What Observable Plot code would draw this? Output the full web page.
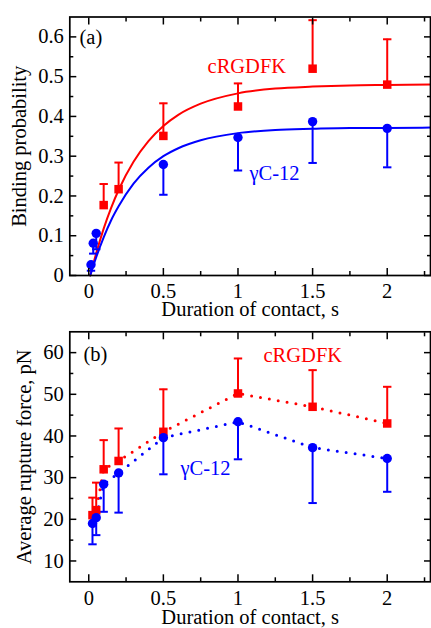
<!DOCTYPE html>
<html>
<head>
<meta charset="utf-8">
<script src="https://cdn.jsdelivr.net/npm/d3@7"></script>
<script src="https://cdn.jsdelivr.net/npm/@observablehq/plot@0.6"></script>
<style>
  html, body { margin: 0; padding: 0; background: #fff; }
  #chart { width: 431px; height: 628px; overflow: hidden; }
  #chart svg { display: block; }
  #chart svg, #chart svg text, #chart svg g { font-family: "Liberation Serif", "Times New Roman", Times, serif !important; }
</style>
</head>
<body>
<div id="chart"></div>
<script>
// ---------- Panel (a): binding probability ----------
const redA_t   = [0.1, 0.2, 0.5, 1, 1.5, 2];
const redA_p   = [0.177, 0.217, 0.351, 0.425, 0.520, 0.480];
const redA_hi  = [0.230, 0.284, 0.433, 0.483, 0.642, 0.594];
const blueA_t  = [0.015, 0.03, 0.05, 0.5, 1, 1.5, 2];
const blueA_p  = [0.027, 0.081, 0.106, 0.279, 0.347, 0.387, 0.370];
const blueA_lo = [0.012, 0.055, 0.066, 0.203, 0.264, 0.283, 0.272];
// fitted curves
const fit_t    = [0.01, 0.05, 0.1, 0.15, 0.2, 0.3, 0.4, 0.5, 0.6, 0.75, 1, 1.25, 1.5, 1.75, 2, 2.3];
const fitRed   = [0, 0.056, 0.118, 0.170, 0.215, 0.286, 0.338, 0.376, 0.404, 0.432, 0.458, 0.470, 0.475, 0.478, 0.479, 0.480];
const fitBlue  = [0, 0.046, 0.096, 0.139, 0.174, 0.231, 0.271, 0.300, 0.320, 0.340, 0.358, 0.366, 0.369, 0.371, 0.371, 0.372];

// ---------- Panel (b): average rupture force ----------
const b_t      = [0.025, 0.05, 0.1, 0.2, 0.5, 1, 1.5, 2];
const redB_f   = [21.0, 22.2, 32.0, 34.0, 41.0, 50.2, 47.0, 43.0];
const redB_hi  = [25.2, 28.8, 39.0, 41.8, 51.2, 58.6, 55.8, 51.8];
const blueB_f  = [19.0, 20.4, 28.4, 31.1, 39.6, 43.4, 37.2, 34.6];
const blueB_lo = [14.0, 16.2, 21.8, 21.6, 30.8, 34.4, 23.9, 26.6];

// ---------- ticks and labels ----------
const xMajor  = [0, 0.5, 1, 1.5, 2];
const xMinor  = [0.25, 0.75, 1.25, 1.75, 2.25];
const yMajorA = [0, 0.1, 0.2, 0.3, 0.4, 0.5, 0.6];
const yMinorA = [0.05, 0.15, 0.25, 0.35, 0.45, 0.55];
const yMajorB = [10, 20, 30, 40, 50, 60];
const yMinorB = [15, 25, 35, 45, 55];
const xTitle  = "Duration of contact, s";
const yTitleA = "Binding probability";
const yTitleB = "Average rupture force, pN";
const notesA  = [{t: "(a)", x: -0.062, y: 0.583, c: "black"},
                 {t: "cRGDFK", x: 0.796, y: 0.508, c: "red"},
                 {t: "γC-12", x: 1.077, y: 0.239, c: "blue"}];
const notesB  = [{t: "(b)", x: -0.035, y: 57.9, c: "black"},
                 {t: "cRGDFK", x: 1.171, y: 57.7, c: "red"},
                 {t: "γC-12", x: 0.615, y: 30.6, c: "blue"}];

const RED = "#ff0000", BLUE = "#0000ff";
const FONT = "Liberation Serif";
const FS = 20.5;
const zip = (xs, ys, extra) => xs.map((x, i) => ({x, y: ys[i], e: extra ? extra[i] : null}));

const cap = {draw(ctx) { ctx.moveTo(-4.2, 0); ctx.lineTo(4.2, 0); }};

function frameMarks(yMajor, yMinor, yFmt, xPad) {
  const blank = () => "";
  return [
    Plot.frame({stroke: "black", strokeWidth: 1.7}),
    Plot.axisX(xMajor, {anchor: "bottom", tickSize: -7, strokeWidth: 1.5, tickFormat: blank, label: null}),
    Plot.axisX(xMinor, {anchor: "bottom", tickSize: -4, strokeWidth: 1.5, tickFormat: blank, label: null}),
    Plot.axisX(xMajor, {anchor: "top", tickSize: -7, strokeWidth: 1.5, tickFormat: blank, label: null}),
    Plot.axisX(xMinor, {anchor: "top", tickSize: -4, strokeWidth: 1.5, tickFormat: blank, label: null}),
    Plot.axisY(yMajor, {anchor: "left", tickSize: -7, strokeWidth: 1.5, tickFormat: blank, label: null}),
    Plot.axisY(yMinor, {anchor: "left", tickSize: -4, strokeWidth: 1.5, tickFormat: blank, label: null}),
    Plot.axisY(yMajor, {anchor: "right", tickSize: -7, strokeWidth: 1.5, tickFormat: blank, label: null}),
    Plot.axisY(yMinor, {anchor: "right", tickSize: -4, strokeWidth: 1.5, tickFormat: blank, label: null}),
    Plot.axisX(xMajor, {anchor: "bottom", tickSize: 0, tickPadding: xPad, fontSize: FS, fill: "black",
                        tickFormat: d => String(d), label: null}),
    Plot.axisY(yMajor, {anchor: "left", tickSize: 0, tickPadding: 6, fontSize: FS, fill: "black",
                        tickFormat: yFmt, label: null})
  ];
}

function noteMarks(notes) {
  return Plot.text(notes, {x: "x", y: "y", text: "t", fill: "c", textAnchor: "start",
                           lineAnchor: "bottom", fontSize: FS, fontFamily: FONT});
}

const common = {
  width: 431, height: 314,
  marginLeft: 69.3, marginRight: 1,
  style: {fontFamily: FONT, fontSize: FS + "px", background: "white", color: "black", overflow: "visible"},
  x: {domain: [-0.127, 2.29]}
};

// Panel (a)
const redA = zip(redA_t, redA_p, redA_hi);
const blueA = zip(blueA_t, blueA_p, blueA_lo);
const plotA = Plot.plot({
  ...common,
  marginTop: 16.5, marginBottom: 39,
  y: {domain: [0, 0.65]},
  marks: [
    Plot.line(zip(fit_t, fitRed), {x: "x", y: "y", stroke: RED, strokeWidth: 2, curve: "monotone-x"}),
    Plot.line(zip(fit_t, fitBlue), {x: "x", y: "y", stroke: BLUE, strokeWidth: 2, curve: "monotone-x"}),
    Plot.ruleX(redA, {x: "x", y1: "y", y2: "e", stroke: RED, strokeWidth: 2}),
    Plot.dot(redA, {x: "x", y: "e", symbol: cap, stroke: RED, strokeWidth: 2, r: 4}),
    Plot.ruleX(blueA, {x: "x", y1: "y", y2: "e", stroke: BLUE, strokeWidth: 2}),
    Plot.dot(blueA, {x: "x", y: "e", symbol: cap, stroke: BLUE, strokeWidth: 2, r: 4}),
    Plot.dot(redA, {x: "x", y: "y", symbol: "square", r: 4.8, fill: RED, stroke: "none"}),
    Plot.dot(blueA, {x: "x", y: "y", symbol: "circle", r: 4.7, fill: BLUE, stroke: "none"}),
    ...frameMarks(yMajorA, yMinorA, d => String(d), 7.5),
    noteMarks(notesA),
    Plot.text([xTitle], {text: d => d, frameAnchor: "bottom", dy: 34.3, textAnchor: "middle", lineAnchor: "middle", fontSize: FS, fontFamily: FONT, fill: "black"}),
    Plot.text([yTitleA], {text: d => d, frameAnchor: "left", dx: -50.5, rotate: -90, textAnchor: "middle", lineAnchor: "middle", fontSize: FS, fontFamily: FONT, fill: "black"})
  ]
});

// Panel (b)
const redB = zip(b_t, redB_f, redB_hi);
const blueB = zip(b_t, blueB_f, blueB_lo);
const plotB = Plot.plot({
  ...common,
  marginTop: 17.3, marginBottom: 46.7,
  y: {domain: [5, 65]},
  marks: [
    Plot.line(redB, {x: "x", y: "y", stroke: RED, strokeWidth: 3, strokeDasharray: "0 9", strokeLinecap: "round"}),
    Plot.line(blueB, {x: "x", y: "y", stroke: BLUE, strokeWidth: 3, strokeDasharray: "0 9", strokeLinecap: "round"}),
    Plot.ruleX(redB, {x: "x", y1: "y", y2: "e", stroke: RED, strokeWidth: 2}),
    Plot.dot(redB, {x: "x", y: "e", symbol: cap, stroke: RED, strokeWidth: 2, r: 4}),
    Plot.ruleX(blueB, {x: "x", y1: "y", y2: "e", stroke: BLUE, strokeWidth: 2}),
    Plot.dot(blueB, {x: "x", y: "e", symbol: cap, stroke: BLUE, strokeWidth: 2, r: 4}),
    Plot.dot(redB, {x: "x", y: "y", symbol: "square", r: 4.8, fill: RED, stroke: "none"}),
    Plot.dot(blueB, {x: "x", y: "y", symbol: "circle", r: 4.7, fill: BLUE, stroke: "none"}),
    ...frameMarks(yMajorB, yMinorB, d => String(d), 8.5),
    noteMarks(notesB),
    Plot.text([xTitle], {text: d => d, frameAnchor: "bottom", dy: 36, textAnchor: "middle", lineAnchor: "middle", fontSize: FS, fontFamily: FONT, fill: "black"}),
    Plot.text([yTitleB], {text: d => d, frameAnchor: "left", dx: -45, rotate: -90, textAnchor: "middle", lineAnchor: "middle", fontSize: FS, fontFamily: FONT, fill: "black"})
  ]
});

document.getElementById("chart").append(plotA, plotB);
</script>
</body>
</html>
